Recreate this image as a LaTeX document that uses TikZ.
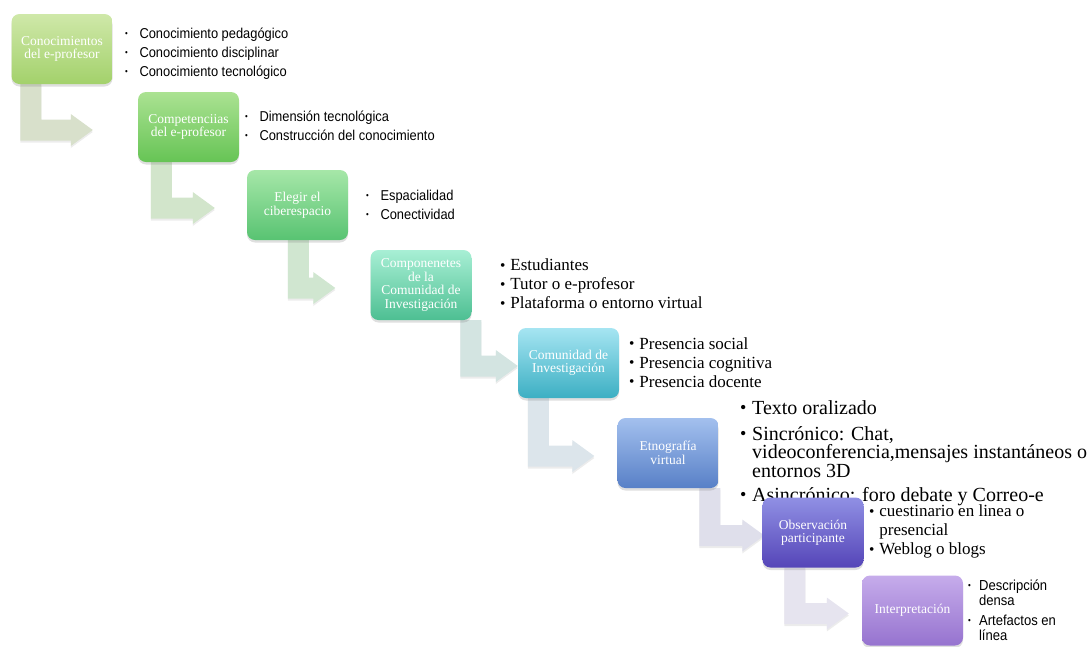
\documentclass[tikz,border=0pt]{standalone}
\usepackage{fontspec}
\setmainfont{Liberation Serif}
\newfontfamily\armsans[FakeStretch=0.9]{Liberation Sans}
\usetikzlibrary{calc,shadows,backgrounds}

% box shadings (top / bottom)
\definecolor{boxAtop}{HTML}{CFE8A9}\definecolor{boxAbot}{HTML}{A3D16B}
\definecolor{boxBtop}{HTML}{ABE292}\definecolor{boxBbot}{HTML}{66C455}
\definecolor{boxCtop}{HTML}{A6E7A8}\definecolor{boxCbot}{HTML}{58C372}
\definecolor{boxDtop}{HTML}{A8EFD5}\definecolor{boxDbot}{HTML}{4DBF92}
\definecolor{boxEtop}{HTML}{A6E5F2}\definecolor{boxEbot}{HTML}{3CAFC3}
\definecolor{boxFtop}{HTML}{A3C0EE}\definecolor{boxFbot}{HTML}{5880C7}
\definecolor{boxGtop}{HTML}{9090E4}\definecolor{boxGbot}{HTML}{5545B8}
\definecolor{boxHtop}{HTML}{C6ACEB}\definecolor{boxHbot}{HTML}{9673CF}
% bent arrows
\definecolor{arrA}{HTML}{D8E0CB}\definecolor{arrB}{HTML}{D2E5CB}
\definecolor{arrC}{HTML}{D0E6D0}\definecolor{arrD}{HTML}{D3E4E1}
\definecolor{arrE}{HTML}{DCE5EB}\definecolor{arrF}{HTML}{DFDFEB}
\definecolor{arrG}{HTML}{E6E4EF}

\newcommand{\sbul}[1][1em]{\makebox[#1][l]{\raisebox{0.12em}{\scalebox{0.6}{\textbullet}}}}
\newcommand{\rbul}[1][0.6em]{\makebox[#1][l]{\raisebox{0.03em}{\scalebox{0.9}{\textbullet}}}}

\begin{document}
\begin{tikzpicture}[x=1pt,y=-1pt,
	stagebox/.style={rounded corners=8pt, minimum width=101pt, minimum height=70pt,
		inner sep=2pt, align=center, text=white, font=\fontsize{13.5}{13.5}\selectfont,
		drop shadow={opacity=0.25,shadow xshift=0pt,shadow yshift=-2.5pt}},
	sanslist/.style={anchor=west, inner sep=0pt, align=left,
		font=\armsans\fontsize{14.3}{19}\selectfont},
	seriflist/.style={anchor=west, inner sep=0pt, align=left,
		font=\fontsize{17}{19}\selectfont},
	bendfill/.style={drop shadow={opacity=0.15,shadow xshift=0pt,shadow yshift=-2pt}}]
	
	\useasboundingbox (0,0) rectangle (1089,646);
	
	% ======================================================
	% Bullet lists beside the stages
	% ======================================================
	\node[sanslist] (konlist) at (125,53.5)
	{\sbul Conocimiento pedagógico\\ \sbul Conocimiento disciplinar\\
		\sbul Conocimiento tecnológico};
	\node[sanslist] (comlist) at (245,126)
	{\sbul Dimensión tecnológica\\ \sbul Construcción del conocimiento};
	\node[sanslist] (cyblist) at (366,204.5)
	{\sbul Espacialidad\\ \sbul Conectividad};
	
	\node[seriflist] (parlist) at (500,284)
	{\rbul Estudiantes\\ \rbul Tutor o e-profesor\\ \rbul Plataforma o entorno virtual};
	\node[seriflist] (prelist) at (629,362.5)
	{\rbul Presencia social\\ \rbul Presencia cognitiva\\ \rbul Presencia docente};
	
	\node[seriflist, font=\fontsize{20}{18.5}\selectfont] (etnlist) at (740,453)
	{\rbul Texto oralizado\\[7pt]
		\rbul Sincrónico: Chat,\\
		\hspace*{0.6em}videoconferencia,mensajes instantáneos o\\
		\hspace*{0.6em}entornos 3D\\[5.5pt]
		\rbul Asincrónico: foro debate y Correo-e};
	
	\node[seriflist] (obslist) at (869,531.5)
	{\rbul cuestinario en linea o\\ \hspace*{0.6em}presencial\\ \rbul Weblog o blogs};
	
	\node[sanslist, font=\armsans\fontsize{14.5}{15}\selectfont] (intlist) at (968,610)
	{\sbul[0.75em]Descripción\\ \hspace*{0.75em}densa\\[5pt]
		\sbul[0.75em]Artefactos en\\ \hspace*{0.75em}línea};
	
	% ======================================================
	% Stages
	% ======================================================
	\node[stagebox, top color=boxAtop, bottom color=boxAbot] (conoc) at (62,49)
	{Conocimientos\\del e-profesor};
	\node[stagebox, top color=boxBtop, bottom color=boxBbot] (compet) at (188.5,127)
	{Competenciias\\del e-profesor};
	\node[stagebox, top color=boxCtop, bottom color=boxCbot] (elegir) at (297.5,205)
	{Elegir el\\ciberespacio};
	\node[stagebox, top color=boxDtop, bottom color=boxDbot] (compon) at (421,285)
	{Componenetes\\de la\\Comunidad de\\Investigación};
	\node[stagebox, top color=boxEtop, bottom color=boxEbot] (comun) at (568.5,363)
	{Comunidad de\\Investigación};
	\node[stagebox, top color=boxFtop, bottom color=boxFbot] (etno) at (668,453)
	{Etnografía\\virtual};
	\node[stagebox, top color=boxGtop, bottom color=boxGbot] (obs) at (813,532.5)
	{Observación\\participante};
	\node[stagebox, top color=boxHtop, bottom color=boxHbot] (interp) at (912.5,610.5)
	{Interpretación};
	
	% ======================================================
	% Bent arrows between the stages (behind everything)
	% ======================================================
	\begin{pgfonlayer}{background}
		\foreach \a/\b/\dx/\gap/\col in {conoc/compet/9/45/arrA, compet/elegir/13/32/arrB,
			elegir/compon/41/35/arrC, compon/comun/90/0/arrD, comun/etno/10/23/arrE,
			etno/obs/82/-2/arrF, obs/interp/22/13/arrG}{
			\path[fill=\col, bendfill]
			let \p1 = ($(\a.south west)+(\dx,0)$), \p2 = ($(\b.west)-(\gap,-3)$) in
			(\x1,\y1) -- (\x1+21pt,\y1) -- (\x1+21pt,\y2+10.5pt)
			-- (\x2-22pt,\y2+10.5pt) -- (\x2-22pt,\y2+16pt) -- (\x2,\y2)
			-- (\x2-22pt,\y2-16pt) -- (\x2-22pt,\y2-10.5pt) -- (\x1,\y2-10.5pt) -- cycle;
		}
	\end{pgfonlayer}
	
\end{tikzpicture}
\end{document}
